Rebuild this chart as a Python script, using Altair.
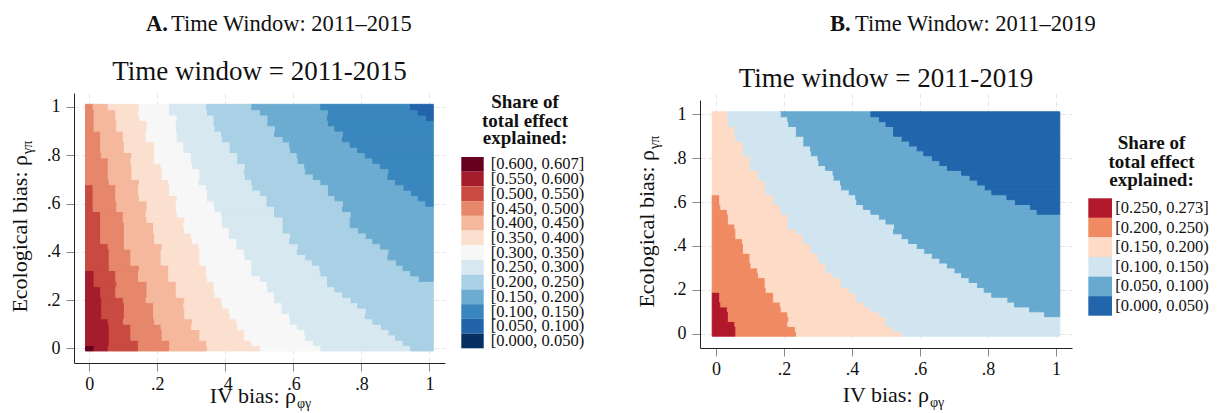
import altair as alt
import pandas as pd

FONT = "Liberation Serif"
NGRID = 46            # 46 x 46 grid, cell centres at 0, 1/45, ..., 1
STEP = 1.0 / 45

# ---------------- Panel A (2011-2015) ----------------
# For each row (bottom -> top): number of columns (from the left) whose class is >= t
A_B12 = [1] + [0] * 45
A_B11 = [3]*6 + [2]*6 + [1]*3 + [0]*31
A_B10 = [7]*2 + [6]*3 + [5]*5 + [4]*5 + [3]*5 + [2]*6 + [1]*5 + [0]*15
A_B9 = [11]*2 + [10]*3 + [9]*4 + [8]*4 + [7]*3 + [6]*3 + [5]*7 + [4]*5 + [3]*5 + [2]*5 + [1]*5
A_B8 = [16]*2 + [15]*2 + [14]*2 + [13]*4 + [12]*3 + [11]*3 + [10]*4 + [9]*4 + [8]*4 + [7]*4 + [6]*5 + [5]*4 + [4]*4 + [3]*1
A_B7 = [23, 22, 21, 21, 20, 20, 19, 19, 18, 18, 17, 17, 17, 16, 16, 16, 15, 15, 15, 15,
        14, 14, 13, 13, 13, 12, 12, 12, 12, 11, 11, 11, 10, 10, 10, 9, 9, 9, 9, 8, 8, 8, 8, 7, 7, 7]
A_B6 = [31, 30, 29, 29, 28, 27, 27, 26, 26, 25, 25, 24, 24, 23, 22, 22, 22, 21, 21, 20,
        20, 19, 19, 18, 18, 18, 17, 17, 16, 16, 16, 15, 15, 15, 14, 14, 14, 13, 13, 12,
        12, 12, 12, 12, 11, 11]
A_B5 = [43, 42, 41, 40, 39, 38, 37, 37, 36, 35, 34, 33, 32, 32, 31, 31, 30, 29, 28, 28,
        27, 27, 26, 26, 26, 25, 25, 24, 24, 23, 22, 22, 21, 21, 21, 20, 20, 19, 19, 18,
        18, 17, 17, 17, 16, 16]
A_B4 = [46]*13 + [44, 43, 42, 41, 40, 40, 39, 38, 37, 36, 35, 35, 35, 34, 34, 33, 32, 32,
                  31, 30, 29, 29, 28, 28, 27, 27, 26, 25, 25, 24, 24, 23, 22]
A_B3 = [46]*27 + [45, 44, 43, 42, 41, 40, 40, 39, 38, 37, 36, 35, 34, 34, 33, 32, 32, 32, 31]
A_B2 = [46]*43 + [45, 44, 43]
A_B1 = [46]*46
A_BOUNDS = [A_B1, A_B2, A_B3, A_B4, A_B5, A_B6, A_B7, A_B8, A_B9, A_B10, A_B11, A_B12]

A_LABELS = ["[0.600, 0.607]", "[0.550, 0.600)", "[0.500, 0.550)", "[0.450, 0.500)",
            "[0.400, 0.450)", "[0.350, 0.400)", "[0.300, 0.350)", "[0.250, 0.300)",
            "[0.200, 0.250)", "[0.150, 0.200)", "[0.100, 0.150)", "[0.050, 0.100)",
            "[0.000, 0.050)"]
A_COLORS = ["#67001f", "#a51d2d", "#c94a40", "#e6866a", "#f5b89c", "#fbe0d0", "#f7f7f7",
            "#d7e8f1", "#a9d0e5", "#6cacd1", "#3a86be", "#2164a9", "#053061"]

# ---------------- Panel B (2011-2019) ----------------
B_B5 = [3]*3 + [2]*3 + [1]*3 + [0]*37
B_B4 = [11]*2 + [10]*3 + [9]*2 + [8]*2 + [7]*3 + [6]*2 + [5]*3 + [4]*3 + [3]*3 + [2]*3 + [1]*3 + [0]*17
B_B3 = [25, 24, 23, 23, 22, 21, 20, 19, 19, 18, 17, 17, 16, 15, 15, 14, 14, 13, 13, 12,
        12, 11, 10, 10, 10, 9, 9, 8, 8, 7, 7, 7, 6, 6, 5, 5, 5, 4, 4, 4, 3, 3, 3, 2, 2, 2]
B_B2 = [46, 46, 46, 46, 44, 42, 40, 39, 37, 36, 35, 34, 33, 32, 31, 30, 29, 28, 27, 26,
        25, 24, 24, 23, 22, 21, 20, 19, 19, 18, 17, 17, 16, 16, 15, 14, 14, 13, 13, 12,
        12, 11, 11, 10, 10, 9]
B_B1 = [46]*25 + [43, 42, 40, 39, 37, 36, 35, 34, 33, 31, 30, 29, 28, 27, 26, 25, 24, 24, 23, 22, 21]
B_BOUNDS = [B_B1, B_B2, B_B3, B_B4, B_B5]

B_LABELS = ["[0.250, 0.273]", "[0.200, 0.250)", "[0.150, 0.200)", "[0.100, 0.150)",
            "[0.050, 0.100)", "[0.000, 0.050)"]
B_COLORS = ["#b2182b", "#ef8a62", "#fddbc7", "#d1e5f0", "#67a9cf", "#2166ac"]

LEGEND_TITLE = ["Share of", "total effect", "explained:"]
TICKS = [0, 0.2, 0.4, 0.6, 0.8, 1]
LABEL_EXPR = ("datum.value == 0 ? '0' : (datum.value >= 0.999 ? '1' : "
              "replace(format(datum.value, '.1f'), '0.', '.'))")


def build_cells(bounds, labels):
    n = len(labels)
    runs = []
    for j in range(NGRID):
        cls = [sum(1 for b in bounds if k < b[j]) for k in range(NGRID)]
        s = 0
        for k in range(1, NGRID + 1):
            if k == NGRID or cls[k] != cls[s]:
                runs.append((j, s, k, cls[s]))
                s = k
    # merge identical runs of consecutive rows into taller rectangles
    open_runs = {}
    recs = []
    for j in range(NGRID + 1):
        row = {(s, k, c) for (jj, s, k, c) in runs if jj == j}
        for key in list(open_runs):
            if key not in row:
                j0 = open_runs.pop(key)
                s, k, c = key
                recs.append({"x1": (s - 0.5) * STEP, "x2": (k - 0.5) * STEP,
                             "y1": (j0 - 0.5) * STEP, "y2": (j - 0.5) * STEP,
                             "cls": labels[n - 1 - c]})
        for key in row:
            if key not in open_runs:
                open_runs[key] = j
    return pd.DataFrame(recs)


def axis(pad):
    return alt.Axis(values=TICKS, labelExpr=LABEL_EXPR, labelFont=FONT, labelFontSize=18,
                    labelColor="#111", tickSize=8, tickColor="#888", domainColor="#222",
                    domainWidth=1, grid=True, gridColor="#e6e6e6", gridDash=[5, 3],
                    title=None, labelPadding=pad)


def txt(text, x, y, size, weight="normal", align="left", angle=0, dy=0):
    return alt.Chart(pd.DataFrame({"t": [text]})).mark_text(
        font=FONT, fontSize=size, fontWeight=weight, align=align, baseline="alphabetic",
        angle=angle, dy=dy, color="#111").encode(x=alt.value(x), y=alt.value(y), text="t:N")


def panel(bounds, labels, colors, xdom, ydom, yrange, w, h, leg, letter, heading,
          sub_title, head_x, head_y, sub_y, xt, yt):
    df = build_cells(bounds, labels)
    cscale = alt.Scale(domain=labels, range=colors)
    heat = alt.Chart(df).mark_rect(strokeWidth=1).encode(
        x=alt.X("x1:Q", scale=alt.Scale(domain=xdom, nice=False, zero=False), axis=axis(4)),
        x2="x2:Q",
        y=alt.Y("y1:Q", scale=alt.Scale(domain=ydom, range=yrange, nice=False, zero=False),
                axis=axis(6)),
        y2="y2:Q",
        color=alt.Color("cls:N", scale=cscale, legend=None),
        stroke=alt.Stroke("cls:N", scale=cscale, legend=None),
    )
    # legend: swatches and labels placed with a band scale of their own
    ldf = pd.DataFrame({"cls": labels})
    lscale = alt.Scale(domain=labels, range=[leg["y0"], leg["y1"]],
                       paddingInner=0, paddingOuter=0)
    swatch = alt.Chart(ldf).mark_rect().encode(
        y=alt.Y("cls:N", scale=lscale, axis=None),
        x=alt.value(leg["x0"]), x2=alt.value(leg["x1"]),
        color=alt.Color("cls:N", scale=cscale, legend=None),
    )
    ltext = alt.Chart(ldf).mark_text(font=FONT, fontSize=16.5, align="left",
                                     baseline="middle", color="#111").encode(
        y=alt.Y("cls:N", scale=lscale, axis=None),
        x=alt.value(leg["xl"]), text="cls:N",
    )
    layers = [heat, swatch, ltext]
    for line, by in zip(LEGEND_TITLE, leg["ty"]):
        layers.append(txt(line, leg["tx"], by, 19, weight="bold", align="center"))
    layers += [
        txt(letter, head_x, head_y, 22.5, weight="bold"),
        txt(heading, head_x + 25, head_y, 22.5),
        txt(sub_title, w / 2, sub_y, 27, align="center"),
        txt("IV bias: \u03c1", xt[0], xt[1], 22, align="right"),
        txt("\u03c6\u03b3", xt[0] + 1, xt[1], 14, dy=5),
        txt("Ecological bias: \u03c1", yt[0], yt[1], 22, align="right", angle=270),
        txt("\u03b3\u03c0", yt[0], yt[1] - 1, 14, angle=270, dy=5),
    ]
    return alt.layer(*layers).resolve_scale(y="independent").properties(width=w, height=h)


panelA = panel(A_BOUNDS, A_LABELS, A_COLORS, [-0.045, 1.0456], [-0.061, 1.058], [270, 0],
               371, 270,
               dict(x0=387.3, x1=409.7, y0=64, y1=255.3, xl=416.7, tx=451, ty=[15, 33.5, 51]),
               "A.", "Time Window: 2011\u20132015", "Time window = 2011-2015",
               72, -62, -13, (222, 310), (-47, 62))
panelB = panel(B_BOUNDS, B_LABELS, B_COLORS, [-0.047, 1.047], [-0.065, 1.065], [255, 7],
               372, 255,
               dict(x0=388.3, x1=412, y0=105.3, y1=222.7, xl=415.3, tx=451.5, ty=[56, 74.5, 93]),
               "B.", "Time Window: 2011\u20132019", "Time window = 2011-2019",
               130, -62, -6, (229, 309), (-46, 57))

chart = alt.hconcat(panelA, panelB, spacing=51).resolve_scale(
    color="independent", stroke="independent"
).properties(
    padding={"left": 9, "top": 13, "right": 0, "bottom": 0}
).configure(
    background="white", font=FONT
).configure_view(strokeWidth=0).configure_axis(
    labelFont=FONT, titleFont=FONT
).configure_title(font=FONT)

chart.save("out.html", embed_options={"renderer": "svg", "actions": False})
